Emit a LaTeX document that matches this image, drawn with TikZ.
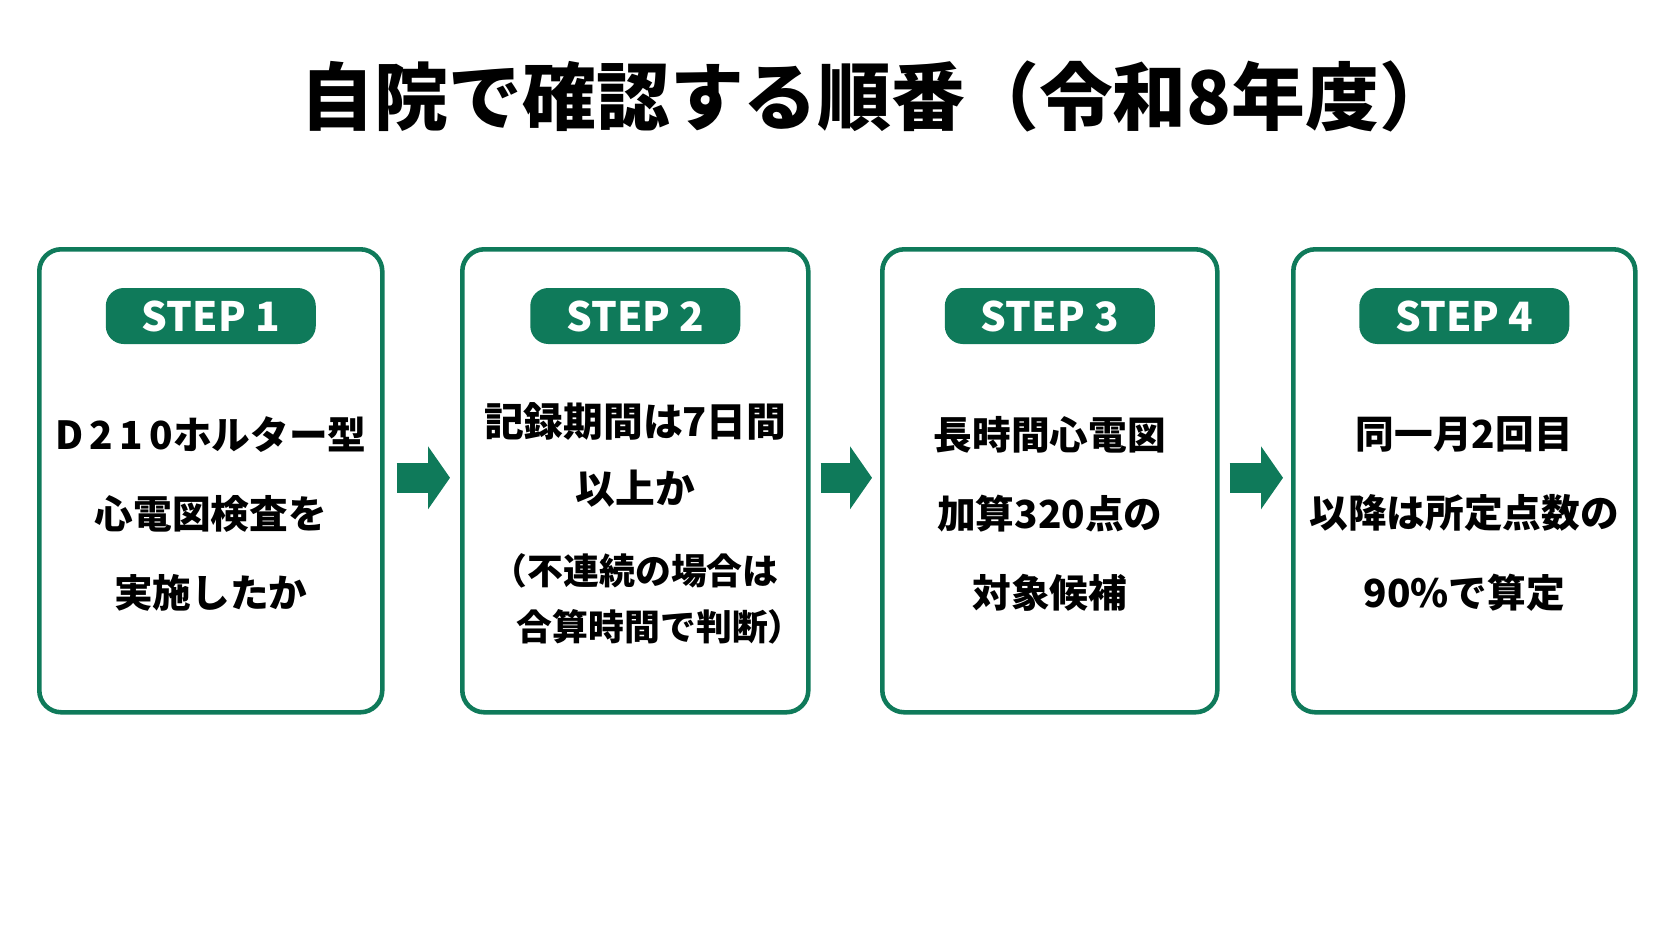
\documentclass[tikz,border=0pt]{standalone}
\usepackage{fontspec}
\setmainfont{Noto Sans CJK JP}
\usetikzlibrary{positioning, arrows.meta}
\definecolor{StepGreen}{HTML}{0F7A5A}
\tikzset{
  card/.style={draw=StepGreen, line width=1.3pt, rounded corners=0.22cm, minimum width=3.4cm, minimum height=4.63cm, anchor=north west},
  pill/.style={fill=StepGreen, text=white, rounded corners=0.18cm, minimum width=2.1cm, minimum height=0.56cm, font=\bfseries\fontsize{11.5}{12}\selectfont},
  body/.style={align=center, font=\bfseries\fontsize{11}{22.5}\selectfont},
  small/.style={align=center, font=\bfseries\fontsize{10.2}{16}\selectfont},
  flow/.style={-{Triangle[length=0.22cm,width=0.62cm]}, line width=0.3cm, StepGreen}
}
\begin{document}
\begin{tikzpicture}
  \useasboundingbox (0,0) rectangle (16.72,-9.41);
  % Title
  \node[font=\bfseries\fontsize{21}{24}\selectfont] (title) at (8.77,-0.96) {自院で確認する順番（令和8年度）};
  % Cards
  \node[card, minimum width=3.43cm] (c1) at (0.37,-2.47) {};
  \node[card, minimum width=3.46cm] (c2) at (4.60,-2.47) {};
  \node[card, minimum width=3.35cm] (c3) at (8.80,-2.47) {};
  \node[card, minimum width=3.42cm] (c4) at (12.91,-2.47) {};
  % Step labels
  \foreach \i in {1,...,4}
    \node[pill] (p\i) at ([yshift=-0.69cm]c\i.north) {STEP \i};
  % Texts
  \node[body] (t1) at ([yshift=-2.67cm]c1.north) {D\,2\,1\,0ホルター型\\心電図検査を\\実施したか};
  \node[body, font=\bfseries\fontsize{11.3}{19}\selectfont] (t2) at ([yshift=-2.08cm]c2.north) {記録期間は7日間\\以上か};
  \node[small] (t2b) at ([yshift=-3.52cm]c2.north) {（不連続の場合は\\\hspace*{1.4em}合算時間で判断）};
  \node[body] (t3) at ([yshift=-2.67cm]c3.north) {長時間心電図\\加算320点の\\対象候補};
  \node[body] (t4) at ([yshift=-2.67cm]c4.north) {同一月2回目\\以降は所定点数の\\90\%で算定};
  % Arrows
  \draw[flow] ([xshift=0.12cm,yshift=0.03cm]c1.east) -- ([xshift=-0.1cm,yshift=0.03cm]c2.west);
  \draw[flow] ([xshift=0.1cm,yshift=0.03cm]c2.east) -- ([xshift=-0.08cm,yshift=0.03cm]c3.west);
  \draw[flow] ([xshift=0.1cm,yshift=0.03cm]c3.east) -- ([xshift=-0.08cm,yshift=0.03cm]c4.west);
\end{tikzpicture}
\end{document}
